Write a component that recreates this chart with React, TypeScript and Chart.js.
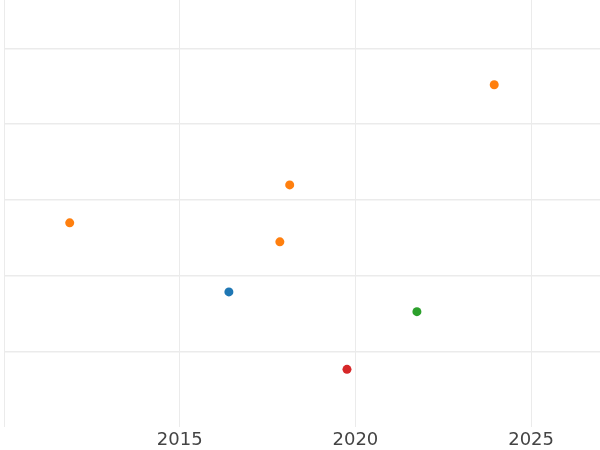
import React, { useEffect, useRef } from "react";
import { Chart, registerables } from "chart.js";

Chart.register(...registerables);

const seriesNames = ["A", "B", "C", "D"];
const seriesColors = ["#1f77b4", "#ff7f0e", "#2ca02c", "#d62728"];
const blueX = [2016.4];
const blueY = [1.79];
const orangeX = [2011.87, 2018.13, 2017.85, 2023.95];
const orangeY = [2.7, 3.2, 2.45, 4.52];
const greenX = [2021.75];
const greenY = [1.53];
const redX = [2019.76];
const redY = [0.77];
const xTicks = [2010, 2015, 2020, 2025];
const xTickLabels = ["", "2015", "2020", "2025"];
const yTicks = [1, 2, 3, 4, 5];

const toPts = (xs: number[], ys: number[]) => xs.map((x, i) => ({ x, y: ys[i] }));

export default function App() {
  const ref = useRef<HTMLCanvasElement | null>(null);
  useEffect(() => {
    if (!ref.current) return;
    const allX = [blueX, orangeX, greenX, redX];
    const allY = [blueY, orangeY, greenY, redY];
    const chart = new Chart(ref.current, {
      type: "scatter",
      data: {
        datasets: seriesNames.map((name, i) => ({
          label: name,
          data: toPts(allX[i], allY[i]),
          backgroundColor: seriesColors[i],
          borderColor: seriesColors[i],
          borderWidth: 0,
          pointRadius: 4.5,
        })),
      },
      options: {
        responsive: false,
        animation: false,
        layout: { autoPadding: false, padding: { left: 4, right: 0, top: 0, bottom: 0 } },
        plugins: { legend: { display: false }, tooltip: { enabled: false } },
        scales: {
          x: {
            type: "linear",
            min: 2010,
            max: 2026.96,
            afterBuildTicks: (s: any) => {
              s.ticks = xTicks.map((v) => ({ value: v }));
            },
            afterFit: (s: any) => {
              s.height = 23;
            },
            grid: { color: "#ebebeb", lineWidth: 1, drawTicks: false },
            border: { display: false },
            ticks: {
              color: "#444444",
              font: { family: "DejaVu Sans", size: 18 },
              padding: 3,
              maxRotation: 0,
              callback: (v: any) => {
                const idx = xTicks.indexOf(Number(v));
                return idx >= 0 ? xTickLabels[idx] : "";
              },
            },
          },
          y: {
            type: "linear",
            min: 0.01,
            max: 5.636,
            afterBuildTicks: (s: any) => {
              s.ticks = yTicks.map((v) => ({ value: v }));
            },
            grid: { color: "#ebebeb", lineWidth: 1.5, drawTicks: false },
            border: { display: false },
            ticks: { display: false },
          },
        },
      },
    });
    return () => chart.destroy();
  }, []);
  return (
    <div style={{ position: "absolute", left: 0, top: 0, width: 600, height: 450 }}>
      <canvas ref={ref} width={600} height={450} />
    </div>
  );
}
